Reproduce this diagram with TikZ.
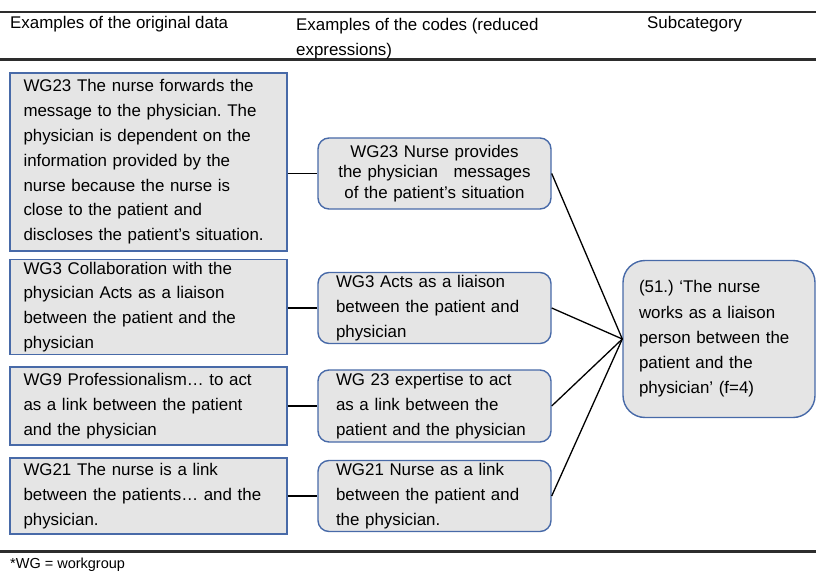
\documentclass[tikz,border=0pt]{standalone}
\usepackage{fontspec}
\setmainfont{Liberation Sans}
\usetikzlibrary{positioning}
\frenchspacing

\definecolor{boxblue}{RGB}{72,106,168}
\definecolor{boxgray}{RGB}{229,229,229}
\definecolor{rulegray}{RGB}{45,45,45}

\tikzset{
  databox/.style={draw=boxblue, fill=boxgray, line width=1.4pt, align=left,
    text width=250pt, inner xsep=13.5pt, inner ysep=0pt, minimum width=277pt,
    font=\fontsize{16.9}{24.8}\selectfont},
  codebox/.style={draw=boxblue, fill=boxgray, line width=1.4pt, rounded corners=11pt,
    align=left, text width=197pt, inner xsep=18pt, inner ysep=0pt,
    font=\fontsize{16.9}{24.8}\selectfont},
  subbox/.style={draw=boxblue, fill=boxgray, line width=1.4pt, rounded corners=22pt,
    align=left, text width=160pt, inner xsep=16pt, inner ysep=0pt,
    font=\fontsize{16.9}{25.2}\selectfont},
  headtext/.style={inner sep=0pt, align=left, font=\fontsize{16.9}{24.8}\selectfont},
  link/.style={line width=1.3pt, black}
}

\begin{document}
\begin{tikzpicture}[x=1pt,y=-1pt]
    \useasboundingbox (0,0) rectangle (816,572);

    % rules of the table
    \draw[rulegray, line width=2pt] (0,12) -- (816,12);
    \draw[rulegray, line width=3pt] (0,60) -- (816,60);
    \draw[rulegray, line width=3pt] (0,551) -- (816,551);

    % header
    \node[headtext, anchor=west] (hdata) at (10,24) {Examples of the original data};
    \node[headtext, anchor=north west] (hcode) at (296,18) {Examples of the codes (reduced\\expressions)};
    \node[headtext, anchor=west] (hsub) at (647,24) {Subcategory};

    % original data
    \node[databox, minimum height=178pt] (d1) at (148.5,162) {WG23 The nurse forwards the\\message to the physician. The\\physician is dependent on the\\information provided by the\\nurse because the nurse is\\close to the patient and\\discloses the patient's situation.};
    \node[databox, minimum height=95pt] (d2) at (148.5,307) {WG3 Collaboration with the\\physician Acts as a liaison\\between the patient and the\\physician};
    \node[databox, minimum height=78pt] (d3) at (148.5,406) {WG9 Professionalism\ldots\ to act\\as a link between the patient\\and the physician};
    \node[databox, minimum height=76pt] (d4) at (148.5,496) {WG21 The nurse is a link\\between the patients\ldots\ and the\\physician.};

    % codes
    \node[codebox, minimum height=71pt, align=center, font=\fontsize{16.9}{20.6}\selectfont] (c1) at (434.5,173.5) {WG23 Nurse provides\\the physician\hspace{10pt} messages\\of the patient’s situation};
    \node[codebox, minimum height=71pt] (c2) at (434.5,308) {WG3 Acts as a liaison\\between the patient and\\physician};
    \node[codebox, minimum height=72pt] (c3) at (434.5,406) {WG 23 expertise to act\\as a link between the\\patient and the physician};
    \node[codebox, minimum height=71pt] (c4) at (434.5,496) {WG21 Nurse as a link\\between the patient and\\the physician.};

    % subcategory
    \node[subbox, minimum width=192pt, minimum height=157pt] (s1) at (719,339) {(51.) ‘The nurse\\works as a liaison\\person between the\\patient and the\\physician’ (f=4)};

    \draw[link] (d1.east |- c1.west) -- (c1.west);
    \draw[link] (d2.east |- c2.west) -- (c2.west);
    \draw[link] (d3.east |- c3.west) -- (c3.west);
    \draw[link] (d4.east |- c4.west) -- (c4.west);
    \foreach \c in {c1,c2,c3,c4}
        \draw[link] (\c.east) -- (s1.west);

    \node[inner sep=0pt, anchor=west, font=\fontsize{14.5}{16}\selectfont] (note) at (10,565) {*WG = workgroup};
\end{tikzpicture}
\end{document}
